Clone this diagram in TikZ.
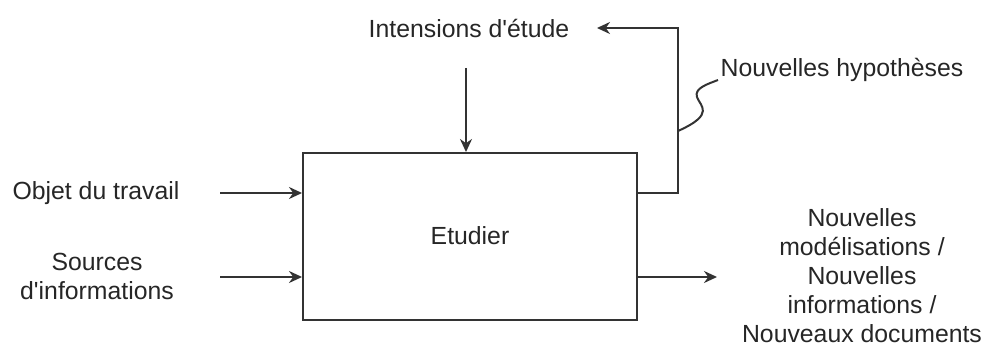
\documentclass[tikz,border=0pt]{standalone}
\usepackage{fontspec}
\setmainfont{Liberation Sans}
\usetikzlibrary{arrows.meta}
\begin{document}
\begin{tikzpicture}[x=0.5pt,y=-0.5pt,
  lbl/.style={inner sep=0pt,font=\fontsize{12.4pt}{14.5pt}\selectfont,align=center,text=black!85},
  conn/.style={line width=1pt,draw=black!80,-{Stealth[length=6.5pt,width=6pt]}},
  plain/.style={line width=1pt,draw=black!80}]
\useasboundingbox (0,0) rectangle (993,358);
\node[draw=black!80,line width=1pt,minimum width=167pt,minimum height=83.5pt,inner sep=0pt] (box) at (470,236.5) {};
\node[lbl] (etud) at (470,236) {Etudier};
\node[lbl] (int) at (469,28) {Intensions d\textquotesingle étude};
\node[lbl] (obj) at (96,193) {Objet du travail};
\node[lbl] (src) at (97,276) {Sources\\d\textquotesingle informations};
\node[lbl] (hyp) at (842,70) {Nouvelles hypothèses};
\node[lbl] (out) at (862,276) {Nouvelles\\modélisations /\\Nouvelles\\informations /\\Nouveaux documents};
\coordinate (intS) at (466,68);
\coordinate (objS) at (220,193);
\coordinate (srcS) at (220,277);
\coordinate (hypA) at (678,193);
\coordinate (hypB) at (678,28);
\coordinate (hypE) at (597,28);
\coordinate (outE) at (717,277);
\coordinate (sq) at (678,131);
\draw[conn] (intS) -- (intS |- box.north);
\draw[conn] (objS) -- (objS -| box.west);
\draw[conn] (srcS) -- (srcS -| box.west);
\draw[conn] (hypA -| box.east) -- (hypA) -- (hypB) -- (hypE);
\draw[conn] (outE -| box.east) -- (outE);
\draw[plain] (sq) .. controls (716,114) and (700,106) .. (697,97) .. controls (694,88) and (708,84) .. (718,80);
\end{tikzpicture}
\end{document}
